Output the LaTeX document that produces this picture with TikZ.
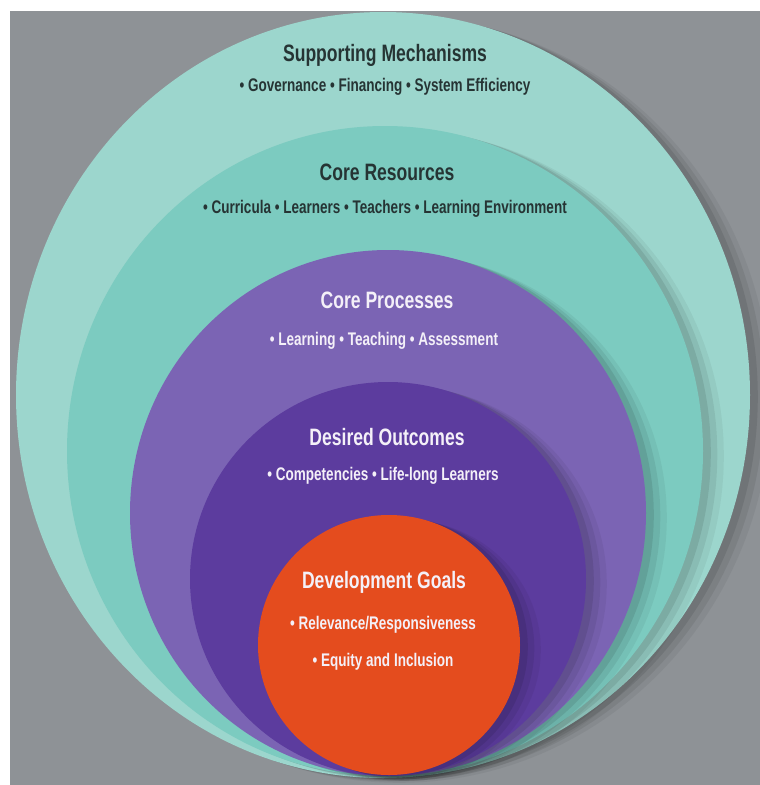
\documentclass[tikz,border=0pt]{standalone}
\usepackage{fontspec}
\setmainfont{Liberation Sans}[FakeStretch=0.74]
\usetikzlibrary{positioning}
\definecolor{bggray}{RGB}{142,146,150}
\definecolor{supteal}{RGB}{156,214,205}
\definecolor{resteal}{RGB}{124,203,192}
\definecolor{procpurple}{RGB}{123,100,180}
\definecolor{outpurple}{RGB}{92,60,158}
\definecolor{goalorange}{RGB}{228,76,30}
\definecolor{darktext}{RGB}{38,52,52}
\definecolor{lighttext}{RGB}{244,240,248}
\begin{document}
\begin{tikzpicture}[x=0.02cm,y=-0.02cm,
    title/.style={font=\bfseries\fontsize{13.5}{16}\selectfont},
    items/.style={font=\bfseries\fontsize{10.4}{12}\selectfont}]
  \useasboundingbox (0,0) rectangle (760,785);
  \fill[bggray] (10,11) rectangle (760,785);
  % nested layers, outermost first
  \foreach \cx/\cy/\rx/\ry/\col in {383/395/367/383/supteal,
                                    385/451/318/325/resteal,
                                    388/513/258/263/procpurple,
                                    388/579/198/197/outpurple,
                                    389/645/131/130/goalorange} {
    \foreach \d/\o in {16/0.05,11/0.07,6/0.09}
      \fill[black,opacity=\o] ({\cx+\d},{\cy+0.3*\d}) ellipse[x radius={\rx+0.3*\d}, y radius=\ry];
    \fill[\col] (\cx,\cy) ellipse[x radius=\rx, y radius=\ry];
  }
  \begin{scope}[every node/.style={darktext,inner sep=0pt}]
    \node[title] (supp)      at (385,55)  {Supporting Mechanisms};
    \node[items] (suppitems) at (385,87)  {• Governance • Financing • System Efficiency};
    \node[title] (res)       at (387,172) {Core Resources};
    \node[items] (resitems)  at (385,209) {• Curricula • Learners • Teachers • Learning Environment};
  \end{scope}
  \begin{scope}[every node/.style={lighttext,inner sep=0pt}]
    \node[title] (proc)      at (387,300) {Core Processes};
    \node[items] (procitems) at (384,341) {• Learning • Teaching • Assessment};
    \node[title] (out)       at (387,437) {Desired Outcomes};
    \node[items] (outitems)  at (383,476) {• Competencies • Life-long Learners};
    \node[title] (goal)      at (384,582) {Development Goals};
    \node[items] (goalitems) at (383,625) {• Relevance/Responsiveness};
    \node[items] (goalitems2) at (383,662) {• Equity and Inclusion};
  \end{scope}
\end{tikzpicture}
\end{document}
